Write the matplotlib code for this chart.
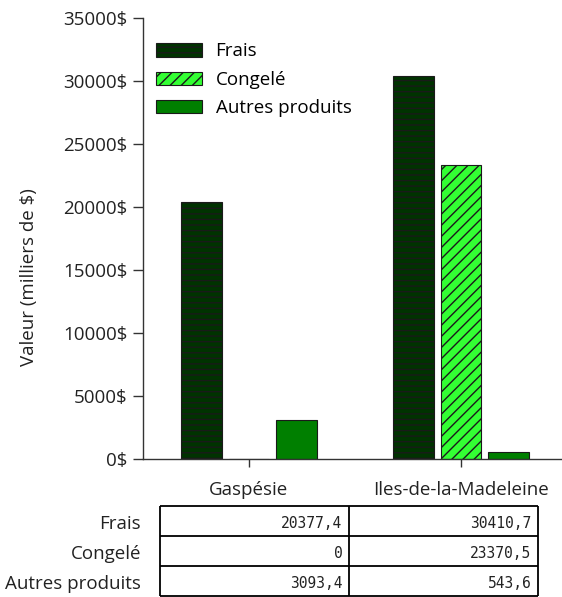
import matplotlib
matplotlib.use("Agg")
import matplotlib.pyplot as plt
import numpy as np

plt.rcParams['font.family'] = ['Open Sans', 'DejaVu Sans']
plt.rcParams['hatch.linewidth'] = 1.0
plt.rcParams['hatch.color'] = 'black'

regions = ["Gaspésie", "Iles-de-la-Madeleine"]
series = ["Frais", "Congelé", "Autres produits"]
frais = [20377.4, 30410.7]
congele = [0, 23370.5]
autres = [3093.4, 543.6]
table_text = [["20377,4", "30410,7"], ["0", "23370,5"], ["3093,4", "543,6"]]
yticks = [0, 5000, 10000, 15000, 20000, 25000, 30000, 35000]

colors = ["#003300", "#33ff33", "#007f00"]
hatches = ["---", "///", None]

W, H = 562, 597
fig = plt.figure(figsize=(W / 100, H / 100), dpi=100)

def fx(px):
    return px / W

def fy(py):
    return 1 - py / H

ax_l, ax_r, ax_t, ax_b = 143, 567, 18, 459
aw, ah = ax_r - ax_l, ax_b - ax_t
ax = fig.add_axes([fx(ax_l), fy(ax_b), aw / W, ah / H])

def axc(px, py):
    return (px - ax_l) / aw, (ax_b - py) / ah

x = np.arange(len(regions))
off = 0.224
bw = 0.193
for i, (vals, c, h, name) in enumerate(zip([frais, congele, autres], colors, hatches, series)):
    ax.bar(x + (i - 1) * off, vals, width=bw, color=c, hatch=h,
           edgecolor='#1a1a1a', linewidth=0.8, label=name, zorder=2)

ax.set_xlim(-0.5, 1.5)
ax.set_ylim(0, 35000)
ax.set_yticks(yticks)
ax.set_yticklabels([f"{v}$" for v in yticks])
ax.set_xticks(x)
ax.set_xticklabels(regions)
ax.spines['top'].set_visible(False)
ax.spines['right'].set_visible(False)
for s in ['left', 'bottom']:
    ax.spines[s].set_color('#333333')
    ax.spines[s].set_linewidth(1.0)
ax.tick_params(axis='y', direction='out', length=7, width=1, colors='#333333',
               labelsize=13.5, labelcolor='#222222', pad=4)
ax.tick_params(axis='x', direction='out', length=6, width=1, colors='#333333',
               labelsize=13.5, labelcolor='#222222', pad=10)
ax.set_ylabel("Valeur (milliers de $)", fontsize=13.5, color='#222222')
ax.yaxis.set_label_coords(*axc(38, 277))

ax.legend(loc='upper left', bbox_to_anchor=axc(148, 35),
          frameon=False, fontsize=13.5, handlelength=2.5, handleheight=0.7,
          labelspacing=0.55, handletextpad=0.7, borderaxespad=0)

# table
t_l, t_r, t_t, t_b = 160, 538, 506, 596
tax = fig.add_axes([fx(t_l), fy(t_b), (t_r - t_l) / W, (t_b - t_t) / H])
tax.set_xlim(0, len(regions))
tax.set_ylim(len(series), 0)
tax.axis('off')
for r in range(len(series) + 1):
    tax.plot([0, len(regions)], [r, r], color='black', lw=1.3, clip_on=False, solid_capstyle='butt')
for c in range(len(regions) + 1):
    tax.plot([c, c], [0, len(series)], color='black', lw=1.3, clip_on=False, solid_capstyle='butt')
for r, name in enumerate(series):
    tax.text(-0.1, r + 0.6, name, ha='right', va='center', fontsize=13.5, color='#222222')
    for c in range(len(regions)):
        tax.text(c + 0.965, r + 0.6, table_text[r][c], ha='right', va='center',
                 fontsize=10.5, color='#222222', family=['DejaVu Sans Mono'])

fig.savefig("out.png", dpi=100)
